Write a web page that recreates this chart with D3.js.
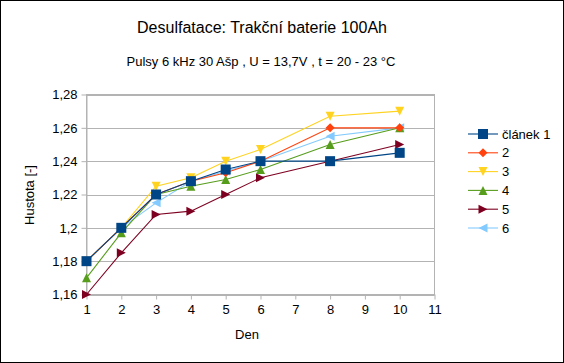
<!DOCTYPE html>
<html>
<head>
<meta charset="utf-8">
<script src="https://cdn.jsdelivr.net/npm/d3@7"></script>
<style>
  body { margin: 0; background: #fff; }
  svg { display: block; font-family: "Liberation Sans", Arial, sans-serif; }
</style>
</head>
<body>
<svg width="564" height="363"></svg>
<script>
// dny měření
const days = [1, 2, 3, 4, 5, 6, 8, 10];
// hustota elektrolytu po článcích
const clanek1 = [1.18, 1.20, 1.22, 1.228, 1.235, 1.24, 1.24, 1.245];
const clanek2 = [1.18, 1.20, 1.22, 1.228, 1.233, 1.24, 1.26, 1.26];
const clanek3 = [1.18, 1.20, 1.225, 1.23, 1.24, 1.247, 1.267, 1.27];
const clanek4 = [1.17, 1.197, 1.22, 1.225, 1.229, 1.235, 1.25, 1.26];
const clanek5 = [1.16, 1.185, 1.208, 1.21, 1.22, 1.23, 1.24, 1.25];
const clanek6 = [1.18, 1.20, 1.215, 1.228, 1.234, 1.24, 1.255, 1.26];
const seriesNames = ["článek 1", "2", "3", "4", "5", "6"];
const xTicks = [1, 2, 3, 4, 5, 6, 7, 8, 9, 10, 11];
const yTicks = [1.16, 1.18, 1.20, 1.22, 1.24, 1.26, 1.28];

const colors = ["#004586", "#ff420e", "#ffd320", "#579d1c", "#7e0021", "#83caff"];
const shapes = ["square", "diamond", "down", "up", "right", "left"];
const allSeries = [clanek1, clanek2, clanek3, clanek4, clanek5, clanek6];

const svg = d3.select("svg");
const width = +svg.attr("width");
const height = +svg.attr("height");

// rámeček kolem celého grafu
svg.append("rect")
  .attr("x", 0.5).attr("y", 0.5)
  .attr("width", width - 1).attr("height", height - 1)
  .attr("fill", "#fff").attr("stroke", "#000");

const x = d3.scaleLinear().domain([1, 11]).range([86.5, 434.5]);
const y = d3.scaleLinear().domain([1.16, 1.28]).range([294.5, 94.5]);

const fmt = d => String(+d.toFixed(2)).replace(".", ",");

// mřížka
svg.append("g")
  .selectAll("line")
  .data(yTicks)
  .join("line")
  .attr("x1", x(1)).attr("x2", x(11))
  .attr("y1", d => Math.round(y(d)) + 0.5).attr("y2", d => Math.round(y(d)) + 0.5)
  .attr("stroke", "#b3b3b3");

svg.append("rect")
  .attr("x", x(1)).attr("y", y(1.28))
  .attr("width", x(11) - x(1)).attr("height", y(1.16) - y(1.28))
  .attr("fill", "none").attr("stroke", "#b3b3b3");

// osy
const xAxis = svg.append("g")
  .attr("transform", `translate(0,${y(1.16)})`)
  .call(d3.axisBottom(x).tickValues(xTicks).tickSize(5).tickSizeOuter(0).tickPadding(5));
const yAxis = svg.append("g")
  .attr("transform", `translate(${x(1)},0)`)
  .call(d3.axisLeft(y).tickValues(yTicks).tickFormat(fmt).tickSize(5).tickSizeOuter(0).tickPadding(4));

[xAxis, yAxis].forEach(a => {
  a.select(".domain").attr("stroke", "#b3b3b3");
  a.selectAll(".tick line").attr("stroke", "#b3b3b3");
  a.selectAll(".tick text")
    .attr("fill", "#000")
    .style("font-family", "Liberation Sans, Arial, sans-serif")
    .style("font-size", "13px");
});

// tvary značek
function markerPath(shape, s) {
  const h = s / 2;
  switch (shape) {
    case "square": return `M${-h},${-h}H${h}V${h}H${-h}Z`;
    case "diamond": return `M0,${-h}L${h},0L0,${h}L${-h},0Z`;
    case "down": return `M${-h},${-h}L${h},${-h}L0,${h}Z`;
    case "up": return `M${-h},${h}L${h},${h}L0,${-h}Z`;
    case "right": return `M${-h},${-h}L${h},0L${-h},${h}Z`;
    case "left": return `M${h},${-h}L${-h},0L${h},${h}Z`;
  }
}
const markerSize = [10, 9, 9, 9, 9, 9];

const line = d3.line()
  .x(d => x(d.x))
  .y(d => y(d.y));

// první řada se kreslí navrch
for (let i = allSeries.length - 1; i >= 0; i--) {
  const pts = days.map((d, j) => ({x: d, y: allSeries[i][j]}));
  const g = svg.append("g");
  g.append("path")
    .attr("d", line(pts))
    .attr("fill", "none")
    .attr("stroke", colors[i])
    .attr("stroke-width", 1.1);
  g.selectAll("path.m")
    .data(pts)
    .join("path")
    .attr("class", "m")
    .attr("transform", d => `translate(${x(d.x)},${y(d.y)})`)
    .attr("d", markerPath(shapes[i], markerSize[i]))
    .attr("fill", colors[i]);
}

// legenda
const legend = svg.append("g");
seriesNames.forEach((name, i) => {
  const ly = 134 + i * 18.8;
  legend.append("line")
    .attr("x1", 468).attr("x2", 498)
    .attr("y1", ly).attr("y2", ly)
    .attr("stroke", colors[i]).attr("stroke-width", 1.1);
  legend.append("path")
    .attr("transform", `translate(483,${ly})`)
    .attr("d", markerPath(shapes[i], markerSize[i]))
    .attr("fill", colors[i]);
  legend.append("text")
    .attr("x", 502).attr("y", ly + 4.5)
    .attr("font-size", 13)
    .text(name);
});

// titulky
svg.append("text")
  .attr("x", 262).attr("y", 33)
  .attr("text-anchor", "middle")
  .attr("font-size", 16)
  .text("Desulfatace: Trakční baterie 100Ah");
svg.append("text")
  .attr("x", 261).attr("y", 66)
  .attr("text-anchor", "middle")
  .attr("font-size", 13)
  .text("Pulsy 6 kHz 30 Ašp , U = 13,7V , t = 20 - 23 °C");
svg.append("text")
  .attr("x", 247).attr("y", 339)
  .attr("text-anchor", "middle")
  .attr("font-size", 13)
  .text("Den");
svg.append("text")
  .attr("transform", "translate(34,195) rotate(-90)")
  .attr("text-anchor", "middle")
  .attr("font-size", 13)
  .text("Hustota [-]");
</script>
</body>
</html>
